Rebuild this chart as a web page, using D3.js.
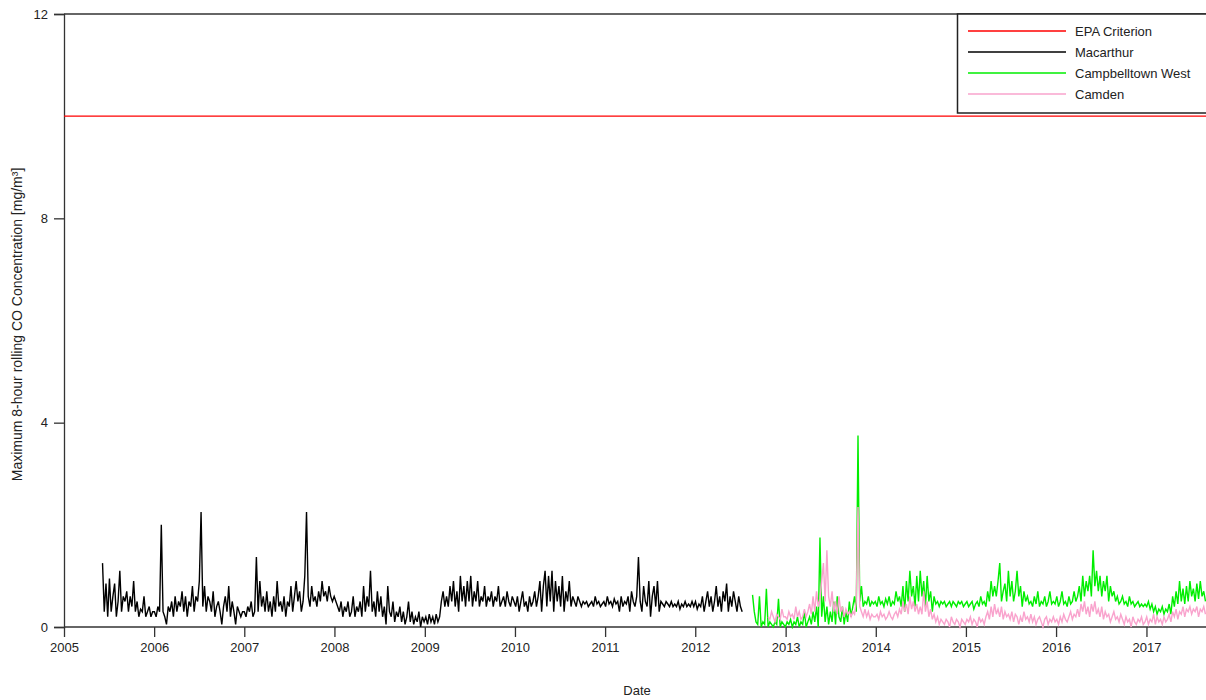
<!DOCTYPE html>
<html>
<head>
<meta charset="utf-8">
<script src="https://cdn.jsdelivr.net/npm/d3@7/dist/d3.min.js"></script>
<style>
  html, body { margin: 0; padding: 0; background: #fff; }
  svg { display: block; }
  text { font-family: "Liberation Sans", Arial, sans-serif; fill: #222; }
</style>
</head>
<body>
<svg id="chart" width="1206" height="700"></svg>
<script>
// Weekly maxima of the 8-hour rolling CO concentration (mg/m3) per station.
const macarthurStart = "2005-06-06";
const macarthur = [
  1.25,0.3,0.85,0.2,0.95,0.3,0.6,0.85,0.2,0.5,1.1,0.3,0.6,
  0.5,0.7,0.3,0.6,0.4,0.9,0.3,0.5,0.2,0.35,0.3,0.6,0.2,
  0.3,0.4,0.2,0.3,
  // 2006
  0.3,0.2,0.4,0.3,2.0,0.3,0.2,0.05,0.4,0.3,0.5,0.2,0.6,
  0.3,0.5,0.4,0.7,0.3,0.6,0.2,0.5,0.4,0.8,0.3,0.6,0.5,
  0.9,2.25,0.4,0.8,0.3,0.6,0.5,0.3,0.7,0.2,0.4,0.5,0.3,
  0.05,0.4,0.6,0.3,0.8,0.2,0.5,0.3,0.05,0.4,0.3,0.2,0.3,
  // 2007
  0.3,0.2,0.4,0.3,0.5,0.2,0.3,1.37,0.3,0.9,0.4,0.6,0.3,
  0.7,0.3,0.5,0.2,0.6,0.3,0.9,0.4,0.5,0.3,0.6,0.2,0.5,
  0.4,0.8,0.3,0.6,0.9,0.5,0.7,0.3,0.5,1.0,2.25,0.6,0.4,
  0.8,0.5,0.6,0.4,0.7,0.5,0.9,0.6,0.7,0.5,0.8,0.6,0.5,
  // 2008
  0.6,0.5,0.4,0.3,0.5,0.2,0.4,0.3,0.5,0.2,0.3,0.6,0.2,
  0.4,0.3,0.5,0.2,0.8,0.3,0.6,0.4,1.1,0.3,0.5,0.2,0.7,
  0.3,0.6,0.2,0.4,0.05,0.8,0.3,0.2,0.5,0.1,0.3,0.2,0.4,
  0.1,0.3,0.05,0.2,0.5,0.1,0.3,0.05,0.2,0.1,0.3,0.0,0.2,
  // 2009
  0.1,0.2,0.05,0.25,0.1,0.2,0.05,0.25,0.1,0.2,0.5,0.7,0.4,
  0.6,0.4,0.8,0.5,0.9,0.4,0.7,0.3,1.0,0.5,0.8,0.4,0.9,
  0.5,1.0,0.4,0.7,0.5,0.9,0.4,0.6,0.5,0.8,0.4,0.6,0.5,
  0.7,0.4,0.6,0.5,0.8,0.4,0.5,0.6,0.4,0.7,0.5,0.4,0.6,
  // 2010
  0.5,0.4,0.6,0.3,0.5,0.7,0.4,0.5,0.3,0.6,0.4,0.5,0.7,
  0.4,0.6,0.9,0.3,0.8,1.1,0.4,1.0,0.5,1.1,0.3,0.9,0.5,
  0.8,0.4,1.0,0.3,0.7,0.5,0.9,0.4,0.6,0.5,0.4,0.6,0.5,
  0.4,0.5,0.45,0.5,0.4,0.45,0.5,0.4,0.6,0.45,0.5,0.4,0.45,
  // 2011
  0.5,0.4,0.6,0.45,0.5,0.4,0.55,0.45,0.5,0.3,0.6,0.4,0.5,
  0.45,0.6,0.3,0.7,0.5,0.4,0.6,1.37,0.5,0.3,0.8,0.5,0.4,
  0.9,0.2,0.6,0.8,0.4,0.9,0.3,0.5,0.45,0.4,0.5,0.45,0.4,
  0.5,0.4,0.45,0.4,0.5,0.35,0.45,0.4,0.5,0.4,0.45,0.4,0.5,
  // 2012
  0.4,0.5,0.35,0.45,0.4,0.6,0.3,0.5,0.7,0.4,0.6,0.3,0.5,
  0.8,0.4,0.6,0.3,0.7,0.5,0.85,0.3,0.6,0.4,0.7,0.5,0.3,
  0.6,0.4,0.3
];

const campbelltownWestStart = "2012-08-20";
const campbelltownWest = [
  0.63,0.3,0.1,0.05,0.6,0.0,0.1,0.05,0.75,0.0,0.1,0.05,0.0,0.1,0.05,0.55,0.0,0.1,0.05,
  // 2013
  0.0,0.1,0.05,0.15,0.0,0.1,0.05,0.2,0.0,0.1,0.05,0.3,0.0,
  0.1,0.2,0.05,0.3,0.1,0.4,0.0,1.75,0.2,0.6,0.1,0.4,0.05,
  0.3,0.1,0.5,0.05,0.6,0.2,0.1,0.4,0.05,0.3,0.1,0.5,0.2,
  0.4,0.6,0.3,3.75,0.5,0.8,0.4,0.5,0.45,0.6,0.4,0.5,0.45,
  // 2014
  0.5,0.4,0.6,0.45,0.5,0.4,0.55,0.45,0.6,0.4,0.5,0.45,0.7,
  0.5,0.6,0.4,0.8,0.3,0.9,0.5,1.1,0.6,0.8,0.4,1.0,0.5,
  1.1,0.6,0.9,0.4,1.0,0.5,0.7,0.3,0.6,0.45,0.5,0.4,0.5,
  0.45,0.5,0.4,0.45,0.5,0.4,0.5,0.45,0.4,0.5,0.45,0.5,0.4,
  // 2015
  0.45,0.5,0.4,0.45,0.5,0.35,0.45,0.5,0.4,0.6,0.45,0.5,0.4,
  0.7,0.5,0.9,0.6,0.8,0.6,0.9,1.25,0.5,0.7,0.85,0.5,1.1,
  0.6,0.9,0.5,0.7,1.1,0.6,0.8,0.4,0.7,0.5,0.6,0.45,0.5,
  0.4,0.6,0.45,0.7,0.4,0.5,0.45,0.6,0.4,0.5,0.7,0.45,0.5,
  // 2016
  0.45,0.6,0.4,0.5,0.7,0.45,0.5,0.4,0.6,0.45,0.5,0.7,0.5,
  0.6,0.8,0.5,1.0,0.6,0.9,0.7,1.0,0.6,1.5,0.8,1.1,0.7,
  1.0,0.6,0.9,0.7,1.0,0.5,0.8,0.6,0.7,0.5,0.6,0.45,0.5,
  0.6,0.45,0.5,0.4,0.6,0.45,0.5,0.4,0.45,0.5,0.4,0.45,0.4,
  // 2017
  0.45,0.4,0.5,0.35,0.45,0.3,0.4,0.25,0.35,0.3,0.4,0.25,0.35,
  0.3,0.45,0.25,0.6,0.4,0.7,0.45,0.9,0.5,0.75,0.45,0.8,0.5,
  0.9,0.6,0.75,0.5,0.85,0.55,0.9,0.6,0.7,0.5
];

const camdenStart = "2012-10-22";
const camden = [
  0.2,0.15,0.3,0.2,0.1,0.25,0.2,0.15,0.35,0.2,
  // 2013
  0.2,0.15,0.3,0.2,0.25,0.15,0.4,0.2,0.3,0.15,0.2,0.35,0.2,
  0.3,0.45,0.25,0.6,0.3,0.7,0.4,0.55,0.9,1.25,0.5,1.5,0.6,
  0.4,0.7,0.3,0.5,0.25,0.6,0.3,0.4,0.2,0.35,0.25,0.3,0.2,
  0.3,0.25,0.5,2.35,0.4,0.3,0.2,0.35,0.2,0.3,0.15,0.25,0.2,
  // 2014
  0.2,0.25,0.15,0.3,0.2,0.25,0.15,0.2,0.3,0.2,0.15,0.25,0.3,
  0.2,0.35,0.25,0.5,0.3,0.45,0.25,0.6,0.35,0.5,0.3,0.45,0.25,
  0.4,0.25,0.7,0.3,0.5,0.2,0.35,0.15,0.25,0.1,0.2,0.05,0.15,
  0.1,0.05,0.15,0.1,0.0,0.2,0.1,0.05,0.15,0.1,0.0,0.15,0.1,
  // 2015
  0.05,0.15,0.1,0.2,0.05,0.15,0.1,0.0,0.2,0.1,0.15,0.05,0.2,
  0.3,0.15,0.4,0.2,0.45,0.25,0.35,0.2,0.4,0.15,0.3,0.2,0.25,
  0.15,0.3,0.1,0.25,0.2,0.05,0.2,0.1,0.3,0.15,0.2,0.1,0.25,
  0.1,0.2,0.05,0.15,0.2,0.1,0.0,0.15,0.2,0.05,0.15,0.1,0.2,
  // 2016
  0.1,0.15,0.05,0.2,0.1,0.25,0.15,0.1,0.2,0.3,0.15,0.25,0.2,
  0.35,0.2,0.45,0.3,0.5,0.25,0.4,0.2,0.45,0.3,0.5,0.25,0.35,
  0.2,0.4,0.15,0.3,0.2,0.25,0.1,0.2,0.3,0.15,0.2,0.1,0.25,
  0.15,0.05,0.2,0.1,0.15,0.0,0.2,0.1,0.05,0.15,0.1,0.2,0.05,
  // 2017
  0.1,0.2,0.05,0.15,0.1,0.25,0.05,0.2,0.1,0.15,0.05,0.2,0.1,
  0.15,0.25,0.1,0.3,0.2,0.35,0.15,0.3,0.25,0.4,0.2,0.35,0.3,
  0.4,0.25,0.35,0.3,0.4,0.2,0.35,0.3,0.4,0.25
];

const epaCriterion = 10;
const yearTicks = ["2005","2006","2007","2008","2009","2010","2011","2012","2013","2014","2015","2016","2017"];
const yTicks = [0, 4, 8, 12];
const legendLabels = ["EPA Criterion", "Macarthur", "Campbelltown West", "Camden"];
const seriesColors = ["#ff0000", "#000000", "#00ee00", "#f9a3cd"];

const svg = d3.select("#chart");
const W = 1206;
const plotLeft = 64, plotTop = 14, plotBottom = 627;
const pxPerYear = 90.2;
const parse = d3.utcParse("%Y-%m-%d");

const x = d3.scaleUtc()
  .domain([parse("2005-01-01"), parse("2018-01-01")])
  .range([plotLeft, plotLeft + 13 * pxPerYear]);
const y = d3.scaleLinear().domain([0, 12]).range([plotBottom, plotTop]);

function weekly(startStr, values) {
  const s = parse(startStr);
  return values.map((v, i) => ({ date: d3.utcDay.offset(s, 7 * i), value: v }));
}

const axisColor = "#333";

svg.append("defs").append("clipPath").attr("id", "plot")
  .append("rect").attr("x", plotLeft).attr("y", plotTop - 2)
  .attr("width", W - plotLeft).attr("height", plotBottom - plotTop + 4);

// Frame: top edge
svg.append("line")
  .attr("x1", plotLeft).attr("x2", W).attr("y1", plotTop).attr("y2", plotTop)
  .attr("stroke", axisColor).attr("stroke-width", 1.3);

// Y axis
const yAxis = svg.append("g")
  .attr("transform", `translate(${plotLeft},0)`)
  .call(d3.axisLeft(y).tickValues(yTicks).tickSize(10).tickPadding(6).tickFormat(d3.format("d")));
yAxis.select(".domain").attr("stroke", axisColor).attr("stroke-width", 1.3);
yAxis.selectAll(".tick line").attr("stroke", axisColor).attr("stroke-width", 1.3);
yAxis.selectAll(".tick text").attr("font-size", 13).attr("fill", "#222")
  .attr("font-family", "Liberation Sans, Arial, sans-serif");

// X axis
const yearDates = yearTicks.map(t => parse(t + "-01-01"));
const xAxis = svg.append("g")
  .attr("transform", `translate(0,${plotBottom})`)
  .call(d3.axisBottom(x).tickValues(yearDates).tickSize(10).tickPadding(6)
    .tickFormat((d, i) => yearTicks[i]));
xAxis.select(".domain").attr("d", `M${plotLeft},0H${W}`).attr("stroke", axisColor).attr("stroke-width", 1.3);
xAxis.selectAll(".tick line").attr("stroke", axisColor).attr("stroke-width", 1.3);
xAxis.selectAll(".tick text").attr("font-size", 13).attr("fill", "#222")
  .attr("font-family", "Liberation Sans, Arial, sans-serif");

// Axis titles
svg.append("text")
  .attr("x", 637).attr("y", 695)
  .attr("text-anchor", "middle").attr("font-size", 13)
  .text("Date");
svg.append("text")
  .attr("transform", `translate(22,${(plotTop + plotBottom) / 2 + 4}) rotate(-90)`)
  .attr("text-anchor", "middle").attr("font-size", 14)
  .text("Maximum 8-hour rolling CO Concentration [mg/m³]");

// Series
const plot = svg.append("g").attr("clip-path", "url(#plot)");
const line = d3.line().x(d => x(d.date)).y(d => y(d.value));

const series = [
  { data: weekly(macarthurStart, macarthur), color: seriesColors[1] },
  { data: weekly(campbelltownWestStart, campbelltownWest), color: seriesColors[2] },
  { data: weekly(camdenStart, camden), color: seriesColors[3] }
];
series.forEach(s => {
  plot.append("path")
    .datum(s.data)
    .attr("fill", "none")
    .attr("stroke", s.color)
    .attr("stroke-width", 1.4)
    .attr("d", line);
});

// EPA criterion
plot.append("line")
  .attr("x1", plotLeft).attr("x2", W)
  .attr("y1", y(epaCriterion)).attr("y2", y(epaCriterion))
  .attr("stroke", seriesColors[0]).attr("stroke-width", 1.3);

// Legend
const legend = svg.append("g");
legend.append("rect")
  .attr("x", 957.5).attr("y", 14).attr("width", 260).attr("height", 99)
  .attr("fill", "#fff").attr("stroke", "#222").attr("stroke-width", 1.5);
legendLabels.forEach((lab, i) => {
  const ly = 31 + i * 21;
  legend.append("line")
    .attr("x1", 968).attr("x2", 1066).attr("y1", ly).attr("y2", ly)
    .attr("stroke", seriesColors[i]).attr("stroke-width", 1.3);
  legend.append("text")
    .attr("x", 1075).attr("y", ly + 4.5)
    .attr("font-size", 13)
    .text(lab);
});
</script>
</body>
</html>
